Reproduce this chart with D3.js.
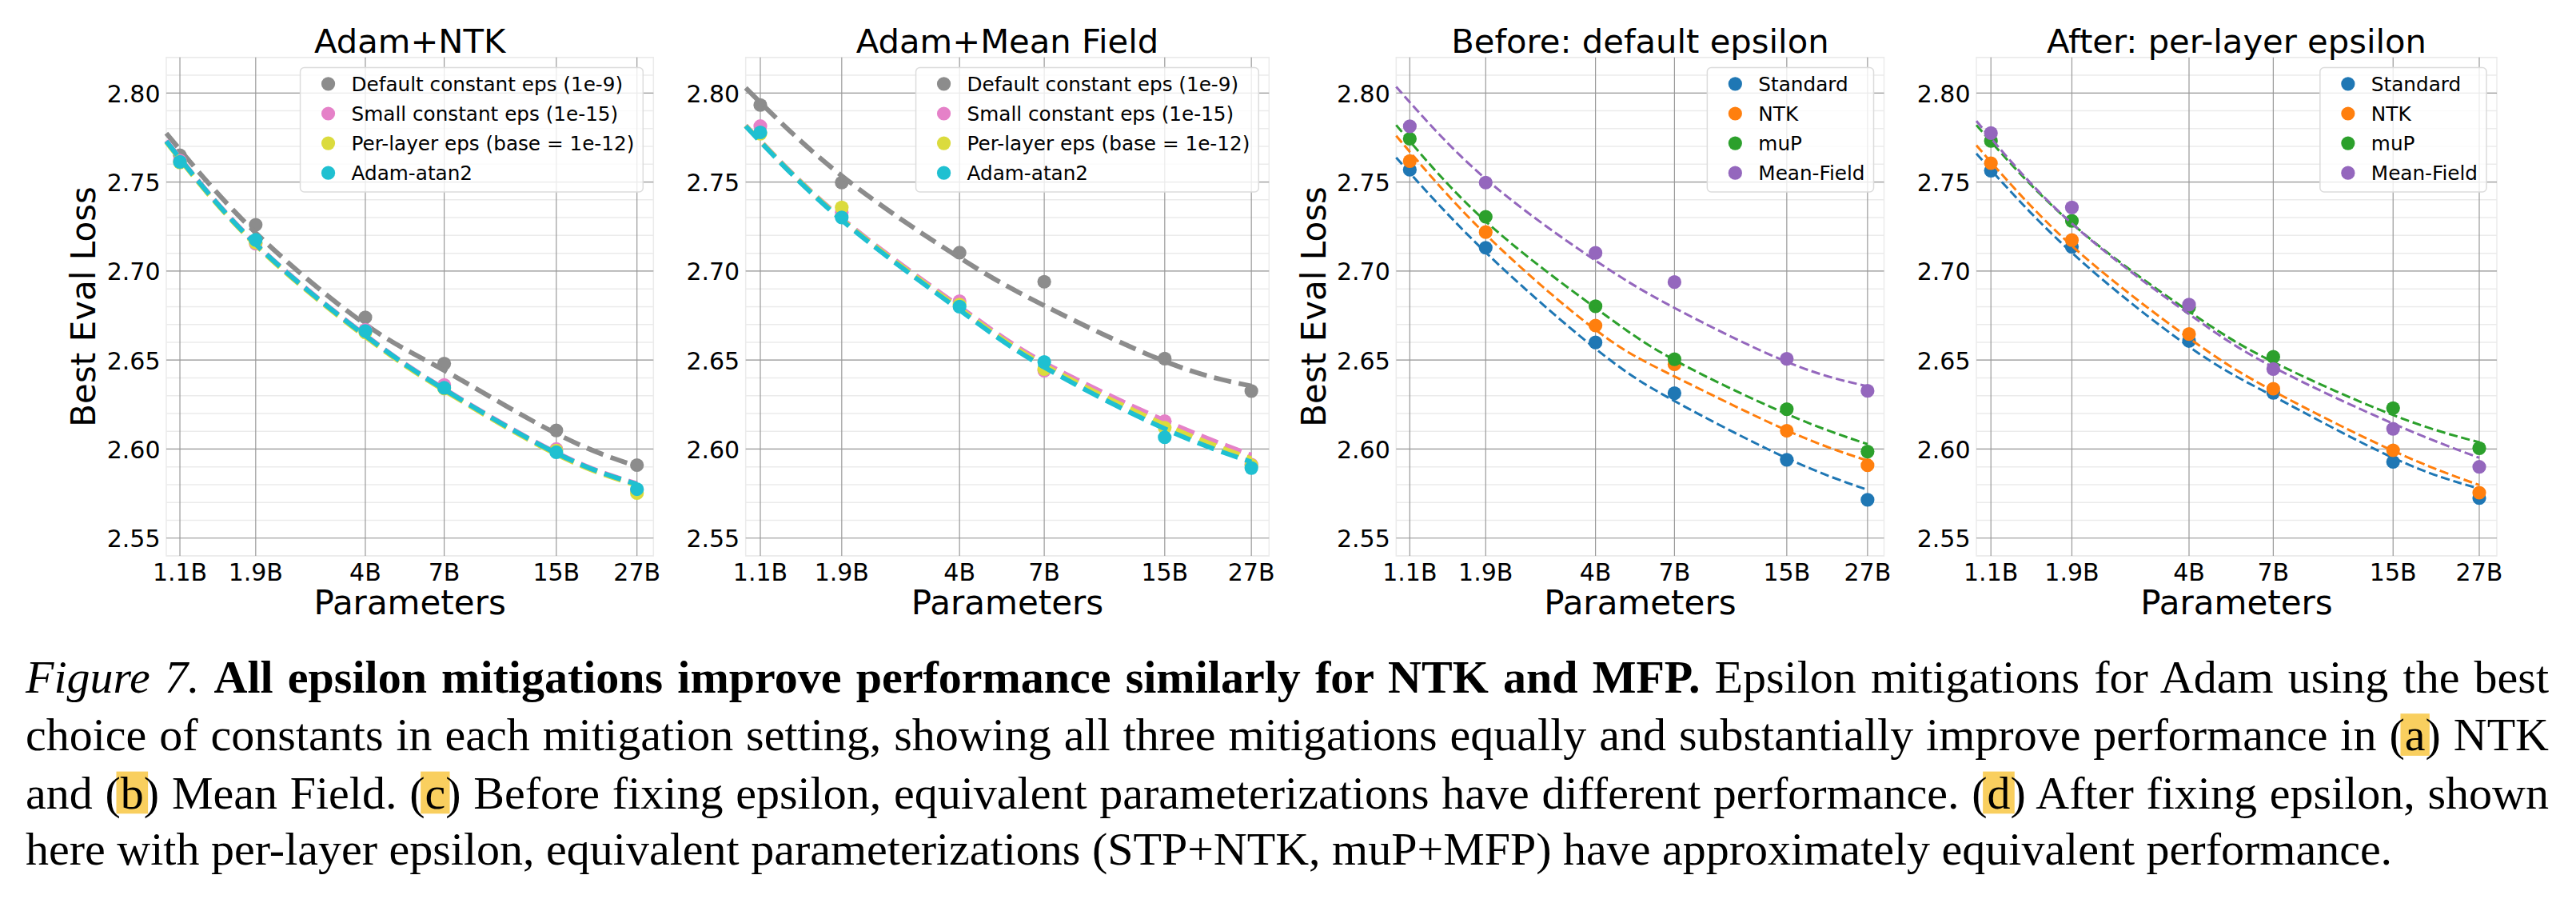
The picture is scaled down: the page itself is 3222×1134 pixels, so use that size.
<!DOCTYPE html>
<html><head><meta charset="utf-8">
<script src="https://cdn.jsdelivr.net/npm/d3@7"></script>
<style>body{margin:0;background:#fff} svg{display:block}</style>
</head><body>
<svg id="fig" width="3222" height="1134"></svg>
<script>
// ---------- data ----------
const paramsB = [1.1, 1.87, 4.03, 7.0, 15.35, 27];
const xTickLabels = ["1.1B", "1.9B", "4B", "7B", "15B", "27B"];
const yTickValues = [2.55, 2.60, 2.65, 2.70, 2.75, 2.80];
const fitParamsB = [1.0, 1.87, 4.03, 7.0, 15.35, 27];

const epsLabels = ["Default constant eps (1e-9)", "Small constant eps (1e-15)", "Per-layer eps (base = 1e-12)", "Adam-atan2"];
const epsColors = ["#8c8c8c", "#e581c8", "#dbdb3d", "#1fc0d1"];
const paramLabels = ["Standard", "NTK", "muP", "Mean-Field"];
const paramColors = ["#1f77b4", "#ff7f0e", "#2ca02c", "#9467bd"];

// (a) Adam+NTK
const ntkDefault  = [2.765, 2.726, 2.674, 2.648, 2.6105, 2.591];
const ntkSmall    = [2.762, 2.7154, 2.667, 2.636, 2.600, 2.577];
const ntkPerLayer = [2.761, 2.716, 2.6655, 2.634, 2.5992, 2.5753];
const ntkAtan2    = [2.7613, 2.7175, 2.6663, 2.6344, 2.5982, 2.5775];
const ntkDefaultFit  = [2.7774, 2.7215, 2.6701, 2.6442, 2.6087, 2.5904];
const ntkSmallFit    = [2.7732, 2.7154, 2.6640, 2.6338, 2.5980, 2.5806];
const ntkPerLayerFit = [2.7724, 2.7146, 2.6631, 2.6329, 2.5971, 2.5797];
const ntkAtan2Fit    = [2.7729, 2.7151, 2.6637, 2.6335, 2.5977, 2.5803];

// (b) Adam+Mean Field
const mfDefault  = [2.7933, 2.7497, 2.7103, 2.694, 2.6508, 2.6326];
const mfSmall    = [2.7814, 2.733, 2.6831, 2.6441, 2.6157, 2.5913];
const mfPerLayer = [2.7772, 2.7357, 2.6811, 2.645, 2.612, 2.591];
const mfAtan2    = [2.7779, 2.7301, 2.680, 2.6489, 2.6066, 2.5894];
const mfDefaultFit  = [2.8029, 2.7535, 2.7075, 2.6806, 2.6493, 2.6354];
const mfSmallFit    = [2.7818, 2.7296, 2.6800, 2.6485, 2.6160, 2.5966];
const mfPerLayerFit = [2.7816, 2.7291, 2.6790, 2.6472, 2.6137, 2.5946];
const mfAtan2Fit    = [2.7814, 2.7286, 2.6781, 2.6460, 2.6114, 2.5928];

// (c) Before: default epsilon
const beforeStandard = [2.7569, 2.7131, 2.6599, 2.6314, 2.594, 2.5715];
const beforeNTK      = [2.7618, 2.7219, 2.6694, 2.6476, 2.6103, 2.5909];
const beforeMuP      = [2.7743, 2.7305, 2.6802, 2.6505, 2.6224, 2.5986];
const beforeMF       = [2.7813, 2.7497, 2.7102, 2.6938, 2.6507, 2.6327];
const beforeStandardFit = [2.7637, 2.7105, 2.6564, 2.627, 2.5949, 2.5771];
const beforeNTKFit      = [2.776, 2.7206, 2.667, 2.6408, 2.6105, 2.5935];
const beforeMuPFit      = [2.782, 2.7279, 2.6793, 2.65, 2.6197, 2.6028];
const beforeMFFit       = [2.8035, 2.7518, 2.7059, 2.6793, 2.649, 2.6353];

// (d) After: per-layer epsilon
const afterStandard = [2.7564, 2.7136, 2.6608, 2.6316, 2.5928, 2.5725];
const afterNTK      = [2.7606, 2.7174, 2.6646, 2.6339, 2.5993, 2.5755];
const afterMuP      = [2.7731, 2.7282, 2.6796, 2.6518, 2.623, 2.6005];
const afterMF       = [2.7775, 2.7357, 2.6811, 2.645, 2.6114, 2.59];
const afterStandardFit = [2.766, 2.7103, 2.6575, 2.6297, 2.5951, 2.5778];
const afterNTKFit      = [2.7706, 2.7142, 2.6623, 2.6326, 2.599, 2.5798];
const afterMuPFit      = [2.782, 2.7267, 2.6773, 2.6489, 2.6191, 2.6038];
const afterMFFit       = [2.7843, 2.7267, 2.6758, 2.646, 2.6143, 2.5951];

const panelTitles = ["Adam+NTK", "Adam+Mean Field", "Before: default epsilon", "After: per-layer epsilon"];

// ---------- layout ----------
const W = 3222, H = 1134;
const svg = d3.select("#fig");
svg.append("rect").attr("width", W).attr("height", H).attr("fill", "#fff");
const FONT = "DejaVu Sans, Noto Sans, sans-serif";
const plotTop = 71.8, plotBottom = 695;

const panels = [
  {left: 208,    right: 817.3, title: panelTitles[0], ylabel: true,  names: epsLabels,   colors: epsColors,
   pts: [ntkDefault, ntkSmall, ntkPerLayer, ntkAtan2], fits: [ntkDefaultFit, ntkSmallFit, ntkPerLayerFit, ntkAtan2Fit], lw: 6, dash: "22,9.6"},
  {left: 932.7,  right: 1587.3, title: panelTitles[1], ylabel: false, names: epsLabels,  colors: epsColors,
   pts: [mfDefault, mfSmall, mfPerLayer, mfAtan2], fits: [mfDefaultFit, mfSmallFit, mfPerLayerFit, mfAtan2Fit], lw: 6, dash: "22,9.6"},
  {left: 1746.3, right: 2356.5, title: panelTitles[2], ylabel: true,  names: paramLabels, colors: paramColors,
   pts: [beforeStandard, beforeNTK, beforeMuP, beforeMF], fits: [beforeStandardFit, beforeNTKFit, beforeMuPFit, beforeMFFit], lw: 3, dash: "11.1,4.8"},
  {left: 2472,   right: 3123,  title: panelTitles[3], ylabel: false, names: paramLabels, colors: paramColors,
   pts: [afterStandard, afterNTK, afterMuP, afterMF], fits: [afterStandardFit, afterNTKFit, afterMuPFit, afterMFFit], lw: 3, dash: "11.1,4.8"}
];

panels.forEach(p => {
  const x = d3.scaleLog().domain([1.0, 30.3]).range([p.left, p.right]);
  const y = d3.scaleLinear().domain([2.54, 2.82]).range([plotBottom, plotTop]);
  const g = svg.append("g");

  // minor grid (every 0.01)
  g.append("g").selectAll("line").data(y.ticks(28)).join("line")
    .attr("x1", p.left).attr("x2", p.right)
    .attr("y1", d => y(d)).attr("y2", d => y(d))
    .attr("stroke", "#ebebeb").attr("stroke-width", 1.5);
  // frame
  g.append("rect").attr("x", p.left).attr("y", plotTop)
    .attr("width", p.right - p.left).attr("height", plotBottom - plotTop)
    .attr("fill", "none").attr("stroke", "#ebebeb").attr("stroke-width", 1.5);
  // major grid
  g.append("g").selectAll("line").data(yTickValues).join("line")
    .attr("x1", p.left).attr("x2", p.right)
    .attr("y1", d => y(d)).attr("y2", d => y(d))
    .attr("stroke", "#9a9a9a").attr("stroke-width", 1.2);
  g.append("g").selectAll("line").data(paramsB).join("line")
    .attr("x1", d => x(d)).attr("x2", d => x(d))
    .attr("y1", plotTop).attr("y2", plotBottom)
    .attr("stroke", "#9a9a9a").attr("stroke-width", 1.2);

  // series: points then fit line
  const line = d3.line().x(d => x(d[0])).y(d => y(d[1])).curve(d3.curveNatural);
  p.pts.forEach((vals, i) => {
    g.append("g").selectAll("circle").data(vals).join("circle")
      .attr("cx", (d, j) => x(paramsB[j])).attr("cy", d => y(d))
      .attr("r", 8.6).attr("fill", p.colors[i]);
    g.append("path").datum(fitParamsB.map((xv, j) => [xv, p.fits[i][j]]))
      .attr("d", line).attr("fill", "none")
      .attr("stroke", p.colors[i]).attr("stroke-width", p.lw)
      .attr("stroke-dasharray", p.dash);
  });

  // y tick labels
  g.append("g").selectAll("text").data(yTickValues).join("text")
    .attr("x", p.left - 7.5).attr("y", d => y(d) + 11.5)
    .attr("text-anchor", "end").attr("font-family", FONT).attr("font-size", 30)
    .text(d => d3.format(".2f")(d));
  // x tick labels
  g.append("g").selectAll("text").data(paramsB).join("text")
    .attr("x", d => x(d)).attr("y", 725.7)
    .attr("text-anchor", "middle").attr("font-family", FONT).attr("font-size", 30)
    .text((d, j) => xTickLabels[j]);

  const cx = (p.left + p.right) / 2;
  g.append("text").attr("x", cx).attr("y", 66.4).attr("text-anchor", "middle")
    .attr("font-family", FONT).attr("font-size", 41.7).text(p.title);
  g.append("text").attr("x", cx).attr("y", 768).attr("text-anchor", "middle")
    .attr("font-family", FONT).attr("font-size", 42).text("Parameters");
  if (p.ylabel) {
    g.append("text").attr("transform", `translate(${p.left - 88.7},${(plotTop + plotBottom) / 2}) rotate(-90)`)
      .attr("text-anchor", "middle").attr("font-family", FONT).attr("font-size", 42)
      .text("Best Eval Loss");
  }

  // legend
  const lg = g.append("g");
  const box = lg.append("rect");
  const rowY = [33.1, 70.2, 107.3, 144.4];
  const texts = [];
  p.names.forEach((nm, i) => {
    lg.append("circle").attr("cx", 35).attr("cy", rowY[i]).attr("r", 8.6).attr("fill", p.colors[i]);
    texts.push(lg.append("text").attr("x", 64).attr("y", rowY[i] + 9)
      .attr("font-family", FONT).attr("font-size", 24.7).text(nm));
  });
  const maxW = d3.max(texts, t => t.node().getComputedTextLength());
  const bw = 64 + maxW + 11;
  box.attr("x", 0).attr("y", 12.7).attr("width", bw).attr("height", 155.5)
    .attr("rx", 5).attr("fill", "#fff").attr("fill-opacity", 0.8)
    .attr("stroke", "#dcdcdc").attr("stroke-width", 1.5);
  lg.attr("transform", `translate(${p.right - 13 - bw},${plotTop})`);
});

// ---------- caption ----------
const captionLines = [
  [{t: "Figure 7.", st: "italic"}, {t: " "}, {t: "All epsilon mitigations improve performance similarly for NTK and MFP.", wt: "bold"}, {t: " Epsilon mitigations for Adam using the best"}],
  [{t: "choice of constants in each mitigation setting, showing all three mitigations equally and substantially improve performance in ("}, {t: "a", hl: true}, {t: ") NTK"}],
  [{t: "and ("}, {t: "b", hl: true}, {t: ") Mean Field. ("}, {t: "c", hl: true}, {t: ") Before fixing epsilon, equivalent parameterizations have different performance. ("}, {t: "d", hl: true}, {t: ") After fixing epsilon, shown"}],
  [{t: "here with per-layer epsilon, equivalent parameterizations (STP+NTK, muP+MFP) have approximately equivalent performance."}]
];
const captionJustify = [true, true, true, false];
const captionBaselines = [865.6, 938.2, 1010.6, 1081.2];
const capLeft = 32, capRight = 3188;
const capG = svg.append("g");
const hlG = capG.append("g");
captionLines.forEach((segs, li) => {
  const t = capG.append("text").attr("x", capLeft).attr("y", captionBaselines[li])
    .attr("font-family", "Liberation Serif, Times New Roman, serif").attr("font-size", 58)
    .style("white-space", "pre");
  const hlIdx = [];
  let idx = 0;
  segs.forEach(s => {
    const ts = t.append("tspan").text(s.t);
    if (s.st) ts.attr("font-style", s.st);
    if (s.wt) ts.attr("font-weight", s.wt);
    if (s.hl) hlIdx.push(idx);
    idx += s.t.length;
  });
  if (captionJustify[li]) {
    const full = segs.map(s => s.t).join("");
    const nSp = (full.match(/ /g) || []).length;
    const nat = t.node().getComputedTextLength();
    t.style("word-spacing", ((capRight - capLeft - nat) / nSp) + "px");
  }
  hlIdx.forEach(ci => {
    const a = t.node().getStartPositionOfChar(ci).x;
    const b = t.node().getEndPositionOfChar(ci).x;
    hlG.append("rect").attr("x", a - 5.3).attr("width", b - a + 10.6)
      .attr("y", captionBaselines[li] - 46).attr("height", 52.7).attr("fill", "#f9cf5f");
  });
});
</script>
</body></html>
